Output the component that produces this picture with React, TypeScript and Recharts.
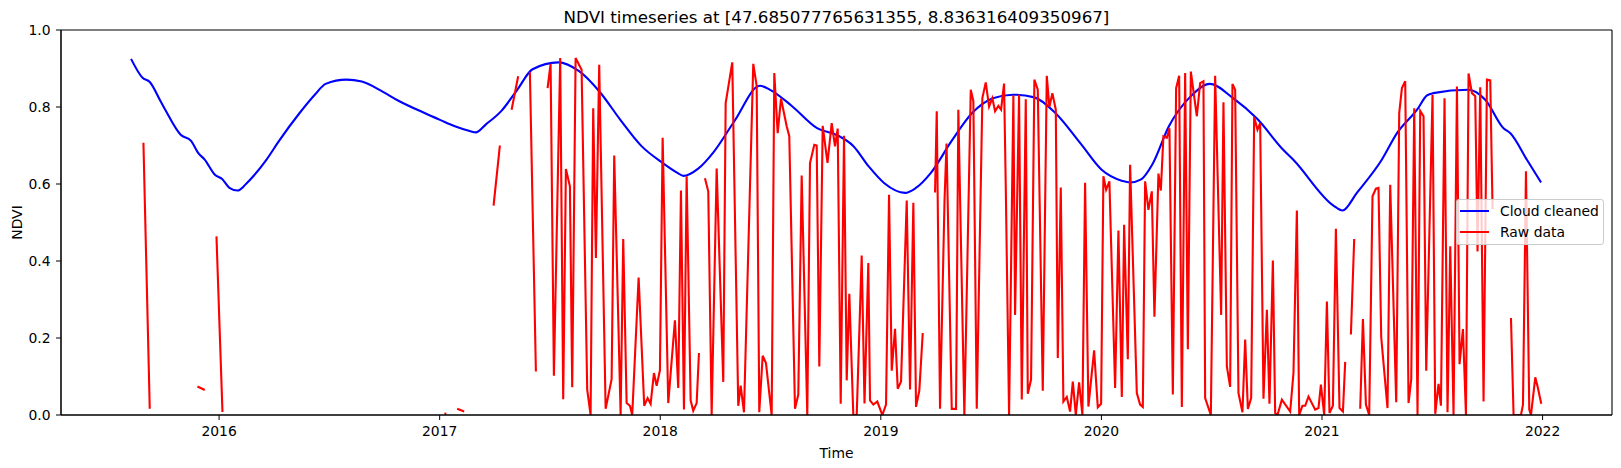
import React from 'react';
import { LineChart, Line, XAxis, YAxis, Legend, ReferenceLine } from 'recharts';

const TITLE = 'NDVI timeseries at [47.685077765631355, 8.836316409350967]';
const xTicks = [2016, 2017, 2018, 2019, 2020, 2021, 2022];
const yTicks = [0, 0.2, 0.4, 0.6, 0.8, 1.0];

// Cloud cleaned series (decimal year, NDVI)
const cleanTime = [
  2015.601, 2015.653, 2015.686, 2015.733, 2015.756, 2015.826, 2015.873, 2015.906, 2015.934, 2015.981,
  2016.014, 2016.047, 2016.084, 2016.122, 2016.155, 2016.216, 2016.272, 2016.366, 2016.436, 2016.483,
  2016.577, 2016.647, 2016.741, 2016.811, 2016.929, 2017.004, 2017.069, 2017.140, 2017.163, 2017.210,
  2017.280, 2017.351, 2017.421, 2017.538, 2017.632, 2017.726, 2017.820, 2017.914, 2018.008, 2018.078,
  2018.105, 2018.172, 2018.242, 2018.336, 2018.452, 2018.500, 2018.594, 2018.711, 2018.805, 2018.875,
  2018.946, 2019.016, 2019.110, 2019.157, 2019.227, 2019.321, 2019.415, 2019.508, 2019.600, 2019.696,
  2019.790, 2019.907, 2020.001, 2020.095, 2020.130, 2020.180, 2020.230, 2020.306, 2020.400, 2020.492,
  2020.597, 2020.705, 2020.824, 2020.870, 2021.052, 2021.093, 2021.158, 2021.271, 2021.340, 2021.431,
  2021.476, 2021.504, 2021.664, 2021.740, 2021.823, 2021.854, 2021.929, 2021.993,
];
const cleanNdvi = [
  0.925, 0.876, 0.865, 0.817, 0.793, 0.728, 0.712, 0.680, 0.664, 0.624,
  0.613, 0.590, 0.583, 0.600, 0.620, 0.664, 0.712, 0.785, 0.833, 0.860,
  0.871, 0.866, 0.840, 0.817, 0.785, 0.766, 0.750, 0.737, 0.734, 0.755,
  0.790, 0.844, 0.898, 0.916, 0.893, 0.839, 0.766, 0.699, 0.656, 0.629,
  0.621, 0.640, 0.683, 0.763, 0.855, 0.844, 0.804, 0.745, 0.726, 0.699,
  0.645, 0.602, 0.577, 0.589, 0.629, 0.712, 0.785, 0.823, 0.832, 0.825,
  0.785, 0.704, 0.637, 0.608, 0.604, 0.612, 0.650, 0.750, 0.825, 0.860,
  0.823, 0.770, 0.689, 0.663, 0.544, 0.531, 0.577, 0.663, 0.732, 0.793,
  0.830, 0.836, 0.845, 0.819, 0.745, 0.732, 0.663, 0.604,
];

// Raw data series as [decimal year, NDVI]; null marks a missing value (gap)
const rawPoints: [number, number | null][] = [
  [2015.6571, 0.707], [2015.6857, 0.016], [2015.70, null],
  [2015.9020, 0.074], [2015.9351, 0.065], [2015.95, null],
  [2015.9882, 0.464], [2016.0154, 0.008], [2016.10, null],
  [2017.0213, 0.004], [2017.0304, 0.003], [2017.05, null],
  [2017.0794, 0.016], [2017.1111, 0.009], [2017.20, null],
  [2017.2444, 0.544], [2017.2730, 0.700], [2017.30, null],
  [2017.3261, 0.793], [2017.3560, 0.880], [2017.38, null],
  [2017.4091, 0.890], [2017.4363, 0.113], [2017.46, null],
  [2017.4893, 0.849], [2017.5029, 0.912], [2017.5179, 0.102], [2017.5465, 0.927], [2017.5601, 0.041],
  [2017.5723, 0.639], [2017.5905, 0.594], [2017.6009, 0.072], [2017.6163, 0.927], [2017.6435, 0.897],
  [2017.6689, 0.066], [2017.6843, 0.000], [2017.6961, 0.797], [2017.7084, 0.408], [2017.7233, 0.910],
  [2017.7524, 0.016], [2017.7796, 0.093], [2017.7914, 0.674], [2017.8204, 0.000], [2017.8322, 0.457],
  [2017.8476, 0.031], [2017.8626, 0.024], [2017.8730, 0.000], [2017.9020, 0.357], [2017.9274, 0.024],
  [2017.9428, 0.044], [2017.9564, 0.029], [2017.9714, 0.109], [2017.9837, 0.076], [2017.9986, 0.116],
  [2018.0109, 0.720], [2018.0363, 0.031], [2018.0666, 0.246], [2018.0816, 0.070], [2018.0939, 0.583],
  [2018.1075, 0.014], [2018.1197, 0.620], [2018.1378, 0.038], [2018.1496, 0.011], [2018.1651, 0.031],
  [2018.1755, 0.161], [2018.19, null],
  [2018.2027, 0.615], [2018.2177, 0.581], [2018.2331, 0.000], [2018.2558, 0.640], [2018.2857, 0.086],
  [2018.2966, 0.810], [2018.3265, 0.916], [2018.3537, 0.024], [2018.3646, 0.076], [2018.3796, 0.007],
  [2018.4217, 0.912], [2018.4372, 0.855], [2018.4490, 0.007], [2018.4644, 0.154], [2018.4793, 0.135],
  [2018.5052, 0.000], [2018.5170, 0.888], [2018.5324, 0.732], [2018.5474, 0.822], [2018.5732, 0.750],
  [2018.5850, 0.724], [2018.6109, 0.016], [2018.6258, 0.053], [2018.6412, 0.622], [2018.6666, 0.000],
  [2018.6789, 0.654], [2018.6984, 0.702], [2018.7093, 0.700], [2018.7211, 0.126], [2018.7365, 0.751],
  [2018.7582, 0.655], [2018.7773, 0.758], [2018.7923, 0.698], [2018.8045, 0.744], [2018.8181, 0.029],
  [2018.8331, 0.725], [2018.8453, 0.090], [2018.8571, 0.315], [2018.8753, 0.000], [2018.8907, 0.000],
  [2018.9133, 0.414], [2018.9260, 0.030], [2018.9433, 0.395], [2018.9510, 0.038], [2018.9660, 0.027],
  [2018.9841, 0.035], [2019.0068, 0.000], [2019.0236, 0.027], [2019.0372, 0.572], [2019.0494, 0.115],
  [2019.0644, 0.224], [2019.0766, 0.068], [2019.0916, 0.087], [2019.1174, 0.557], [2019.1324, 0.066],
  [2019.1474, 0.551], [2019.1596, 0.021], [2019.1746, 0.064], [2019.1900, 0.213], [2019.21, null],
  [2019.2458, 0.578], [2019.2535, 0.789], [2019.2684, 0.016], [2019.2889, 0.560], [2019.2979, 0.705],
  [2019.3215, 0.016], [2019.3410, 0.016], [2019.3514, 0.793], [2019.3787, 0.000], [2019.4077, 0.845],
  [2019.4195, 0.815], [2019.4349, 0.016], [2019.4603, 0.823], [2019.4757, 0.864], [2019.4907, 0.801],
  [2019.5056, 0.823], [2019.5179, 0.789], [2019.5328, 0.803], [2019.5451, 0.793], [2019.5587, 0.861],
  [2019.5664, 0.594], [2019.5814, 0.000], [2019.6009, 0.830], [2019.6086, 0.260], [2019.6267, 0.832],
  [2019.6390, 0.040], [2019.6571, 0.820], [2019.6662, 0.055], [2019.6811, 0.092], [2019.6961, 0.871],
  [2019.7115, 0.845], [2019.7342, 0.063], [2019.7523, 0.881], [2019.7641, 0.800], [2019.7777, 0.836],
  [2019.7932, 0.793], [2019.8022, 0.148], [2019.8158, 0.591], [2019.8276, 0.035], [2019.8430, 0.047],
  [2019.8580, 0.009], [2019.8703, 0.087], [2019.8839, 0.000], [2019.8988, 0.085], [2019.9138, 0.000],
  [2019.9260, 0.603], [2019.9410, 0.022], [2019.9669, 0.168], [2019.9836, 0.020], [2019.9986, 0.029],
  [2020.0090, 0.620], [2020.0213, 0.585], [2020.0362, 0.607], [2020.0621, 0.070], [2020.0771, 0.479],
  [2020.0925, 0.047], [2020.1029, 0.494], [2020.1197, 0.145], [2020.1301, 0.650], [2020.1605, 0.057],
  [2020.1755, 0.027], [2020.1877, 0.021], [2020.1982, 0.607], [2020.2131, 0.533], [2020.2285, 0.581],
  [2020.2403, 0.255], [2020.2585, 0.627], [2020.2694, 0.583], [2020.2811, 0.724], [2020.2966, 0.720],
  [2020.3084, 0.745], [2020.3238, 0.053], [2020.3387, 0.849], [2020.3524, 0.881], [2020.3646, 0.021],
  [2020.3796, 0.888], [2020.3918, 0.171], [2020.4054, 0.892], [2020.4326, 0.776], [2020.4476, 0.862],
  [2020.4626, 0.867], [2020.4703, 0.044], [2020.4961, 0.000], [2020.5156, 0.881], [2020.5428, 0.260],
  [2020.5533, 0.812], [2020.5687, 0.126], [2020.5836, 0.073], [2020.5941, 0.860], [2020.6063, 0.845],
  [2020.6213, 0.057], [2020.6394, 0.007], [2020.6517, 0.196], [2020.6639, 0.016], [2020.6789, 0.044],
  [2020.6925, 0.774], [2020.7075, 0.741], [2020.7197, 0.758], [2020.7347, 0.042], [2020.7501, 0.273],
  [2020.7619, 0.029], [2020.7773, 0.401], [2020.7877, 0.005], [2020.7982, 0.000], [2020.8181, 0.040],
  [2020.8558, 0.009], [2020.8707, 0.109], [2020.8861, 0.531], [2020.8966, 0.000], [2020.9115, 0.024],
  [2020.9238, 0.024], [2020.9388, 0.048], [2020.9691, 0.014], [2020.9841, 0.018], [2020.9950, 0.079],
  [2021.0100, 0.000], [2021.0222, 0.295], [2021.0340, 0.005], [2021.0494, 0.024], [2021.0630, 0.484],
  [2021.0793, 0.018], [2021.0948, 0.009], [2021.1052, 0.138], [2021.118, null],
  [2021.1310, 0.209], [2021.1460, 0.457], [2021.160, null],
  [2021.1732, 0.016], [2021.1855, 0.249], [2021.1991, 0.027], [2021.2140, 0.000], [2021.2290, 0.568],
  [2021.2444, 0.588], [2021.2562, 0.590], [2021.2685, 0.202], [2021.2970, 0.018], [2021.3093, 0.598],
  [2021.3365, 0.033], [2021.3501, 0.784], [2021.3623, 0.849], [2021.3773, 0.867], [2021.3923, 0.031],
  [2021.4045, 0.092], [2021.4181, 0.797], [2021.4331, 0.000], [2021.4453, 0.790], [2021.4603, 0.776],
  [2021.4725, 0.115], [2021.5011, 0.832], [2021.5134, 0.003], [2021.5283, 0.081], [2021.5392, 0.024],
  [2021.5555, 0.823], [2021.5691, 0.007], [2021.5814, 0.438], [2021.5963, 0.000], [2021.6118, 0.853],
  [2021.6236, 0.132], [2021.6390, 0.223], [2021.6526, 0.000], [2021.6644, 0.887], [2021.6798, 0.836],
  [2021.6948, 0.828], [2021.7052, 0.425], [2021.7174, 0.851], [2021.7324, 0.035], [2021.7478, 0.871],
  [2021.7628, 0.869], [2021.7732, 0.535], [2021.80, null],
  [2021.8567, 0.252], [2021.8685, 0.000], [2021.9020, 0.000], [2021.9111, 0.027], [2021.9247, 0.633],
  [2021.9397, 0.014], [2021.9474, 0.000], [2021.9669, 0.098], [2021.9773, 0.074], [2021.9941, 0.029],
];

const cleanData = cleanTime.map((t, i) => ({ t, v: cleanNdvi[i] }));
const rawData = rawPoints.map(([t, v]) => ({ t, v }));

const FONT = '"DejaVu Sans", sans-serif';
const X_DOMAIN: [number, number] = [2015.2834, 2022.3147];
const Y_DOMAIN: [number, number] = [0, 1];

const legendItems = [
  { label: 'Cloud cleaned', color: '#0000ff' },
  { label: 'Raw data', color: '#ff0000' },
];

const LegendBox = () => (
  <div
    style={{
      width: 148,
      height: 46,
      border: '1px solid #cccccc',
      borderRadius: 3,
      background: 'rgba(255,255,255,0.8)',
      boxSizing: 'border-box',
      fontFamily: FONT,
      fontSize: 13.9,
      color: '#000',
      position: 'relative',
    }}
  >
    {legendItems.map((it, i) => (
      <div key={it.label} style={{ position: 'absolute', left: 3, top: 1 + i * 21, height: 20, display: 'flex', alignItems: 'center' }}>
        <div style={{ width: 29, height: 2, background: it.color, marginRight: 11 }} />
        <span style={{ lineHeight: '20px', whiteSpace: 'nowrap' }}>{it.label}</span>
      </div>
    ))}
  </div>
);

export default function App() {
  return (
    <div style={{ position: 'absolute', left: 0, top: 0, width: 1621, height: 468, background: '#fff' }}>
      <div
        style={{
          position: 'absolute',
          left: 61,
          width: 1551,
          top: 6,
          textAlign: 'center',
          fontFamily: FONT,
          fontSize: 16.7,
          lineHeight: '22px',
          color: '#000',
        }}
      >
        {TITLE}
      </div>
      <LineChart width={1621} height={468} margin={{ top: 30, right: 9, bottom: 0, left: 0 }} style={{ position: 'absolute', left: 0, top: 0 }}>
        <XAxis
          dataKey="t"
          type="number"
          domain={X_DOMAIN}
          ticks={xTicks}
          allowDataOverflow
          tickFormatter={(v: number) => String(Math.round(v))}
          height={53}
          tickSize={5}
          tickMargin={6}
          stroke="#000"
          tick={{ fill: '#000', fontSize: 13.9, fontFamily: FONT }}
          label={{ value: 'Time', position: 'insideBottom', offset: 10, fill: '#000', fontSize: 13.9, fontFamily: FONT }}
        />
        <YAxis
          domain={Y_DOMAIN}
          ticks={yTicks}
          allowDataOverflow
          width={61}
          tickSize={5}
          tickMargin={5.5}
          stroke="#000"
          tickFormatter={(v: number) => v.toFixed(1)}
          tick={{ fill: '#000', fontSize: 13.9, fontFamily: FONT }}
          label={{ value: 'NDVI', angle: -90, position: 'insideLeft', offset: 17, fill: '#000', fontSize: 13.9, fontFamily: FONT, style: { textAnchor: 'middle' } }}
        />
        <Line data={cleanData} dataKey="v" name="Cloud cleaned" stroke="#0000ff" strokeWidth={2.1} dot={false} type="monotone" isAnimationActive={false} />
        <Line data={rawData} dataKey="v" name="Raw data" stroke="#ff0000" strokeWidth={2.1} dot={false} type="linear" connectNulls={false} isAnimationActive={false} />
        <ReferenceLine y={Y_DOMAIN[1]} stroke="#000" strokeWidth={1.1} />
        <ReferenceLine x={X_DOMAIN[1]} stroke="#000" strokeWidth={1.1} />
        <ReferenceLine y={Y_DOMAIN[0]} stroke="#000" strokeWidth={1.1} />
        <ReferenceLine x={X_DOMAIN[0]} stroke="#000" strokeWidth={1.1} />
        <Legend
          layout="horizontal"
          verticalAlign="middle"
          align="center"
          content={() => <LegendBox />}
          wrapperStyle={{ left: 1456, top: 199, width: 148, height: 46 }}
        />
      </LineChart>
    </div>
  );
}
